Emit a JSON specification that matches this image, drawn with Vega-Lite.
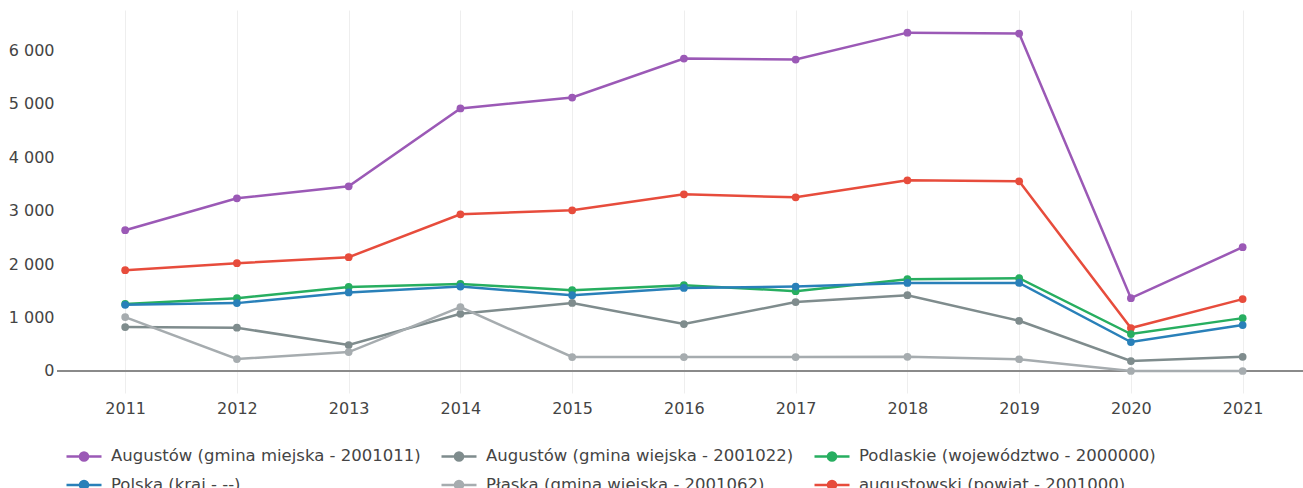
{
  "$schema": "https://vega.github.io/schema/vega-lite/v6.json",
  "autosize": {"type": "none"},
  "width": 1246,
  "height": 383,
  "padding": {"left": 57, "top": 10, "right": 0, "bottom": 95},
  "background": "white",
  "config": {
    "view": {"stroke": null},
    "font": "DejaVu Sans",
    "axis": {"labelFont": "DejaVu Sans", "labelFontSize": 16, "labelColor": "#444", "gridColor": "#eeeeee", "gridWidth": 1, "domain": false, "ticks": false, "title": null}
  },
  "data": {
    "values": [
      {"year": 2011, "series": "Augustów (gmina miejska - 2001011)", "value": 2636},
      {"year": 2012, "series": "Augustów (gmina miejska - 2001011)", "value": 3234},
      {"year": 2013, "series": "Augustów (gmina miejska - 2001011)", "value": 3458},
      {"year": 2014, "series": "Augustów (gmina miejska - 2001011)", "value": 4916},
      {"year": 2015, "series": "Augustów (gmina miejska - 2001011)", "value": 5121},
      {"year": 2016, "series": "Augustów (gmina miejska - 2001011)", "value": 5850},
      {"year": 2017, "series": "Augustów (gmina miejska - 2001011)", "value": 5832},
      {"year": 2018, "series": "Augustów (gmina miejska - 2001011)", "value": 6336},
      {"year": 2019, "series": "Augustów (gmina miejska - 2001011)", "value": 6318},
      {"year": 2020, "series": "Augustów (gmina miejska - 2001011)", "value": 1364},
      {"year": 2021, "series": "Augustów (gmina miejska - 2001011)", "value": 2318},
      {"year": 2011, "series": "augustowski (powiat - 2001000)", "value": 1888},
      {"year": 2012, "series": "augustowski (powiat - 2001000)", "value": 2019},
      {"year": 2013, "series": "augustowski (powiat - 2001000)", "value": 2131},
      {"year": 2014, "series": "augustowski (powiat - 2001000)", "value": 2935},
      {"year": 2015, "series": "augustowski (powiat - 2001000)", "value": 3009},
      {"year": 2016, "series": "augustowski (powiat - 2001000)", "value": 3308},
      {"year": 2017, "series": "augustowski (powiat - 2001000)", "value": 3252},
      {"year": 2018, "series": "augustowski (powiat - 2001000)", "value": 3570},
      {"year": 2019, "series": "augustowski (powiat - 2001000)", "value": 3551},
      {"year": 2020, "series": "augustowski (powiat - 2001000)", "value": 804},
      {"year": 2021, "series": "augustowski (powiat - 2001000)", "value": 1346},
      {"year": 2011, "series": "Podlaskie (województwo - 2000000)", "value": 1255},
      {"year": 2012, "series": "Podlaskie (województwo - 2000000)", "value": 1364},
      {"year": 2013, "series": "Podlaskie (województwo - 2000000)", "value": 1575},
      {"year": 2014, "series": "Podlaskie (województwo - 2000000)", "value": 1630},
      {"year": 2015, "series": "Podlaskie (województwo - 2000000)", "value": 1514},
      {"year": 2016, "series": "Podlaskie (województwo - 2000000)", "value": 1607},
      {"year": 2017, "series": "Podlaskie (województwo - 2000000)", "value": 1495},
      {"year": 2018, "series": "Podlaskie (województwo - 2000000)", "value": 1720},
      {"year": 2019, "series": "Podlaskie (województwo - 2000000)", "value": 1738},
      {"year": 2020, "series": "Podlaskie (województwo - 2000000)", "value": 692},
      {"year": 2021, "series": "Podlaskie (województwo - 2000000)", "value": 990},
      {"year": 2011, "series": "Polska (kraj - --)", "value": 1240},
      {"year": 2012, "series": "Polska (kraj - --)", "value": 1271},
      {"year": 2013, "series": "Polska (kraj - --)", "value": 1470},
      {"year": 2014, "series": "Polska (kraj - --)", "value": 1580},
      {"year": 2015, "series": "Polska (kraj - --)", "value": 1420},
      {"year": 2016, "series": "Polska (kraj - --)", "value": 1555},
      {"year": 2017, "series": "Polska (kraj - --)", "value": 1580},
      {"year": 2018, "series": "Polska (kraj - --)", "value": 1650},
      {"year": 2019, "series": "Polska (kraj - --)", "value": 1650},
      {"year": 2020, "series": "Polska (kraj - --)", "value": 542},
      {"year": 2021, "series": "Polska (kraj - --)", "value": 860},
      {"year": 2011, "series": "Augustów (gmina wiejska - 2001022)", "value": 822},
      {"year": 2012, "series": "Augustów (gmina wiejska - 2001022)", "value": 810},
      {"year": 2013, "series": "Augustów (gmina wiejska - 2001022)", "value": 486},
      {"year": 2014, "series": "Augustów (gmina wiejska - 2001022)", "value": 1070},
      {"year": 2015, "series": "Augustów (gmina wiejska - 2001022)", "value": 1275},
      {"year": 2016, "series": "Augustów (gmina wiejska - 2001022)", "value": 879},
      {"year": 2017, "series": "Augustów (gmina wiejska - 2001022)", "value": 1290},
      {"year": 2018, "series": "Augustów (gmina wiejska - 2001022)", "value": 1420},
      {"year": 2019, "series": "Augustów (gmina wiejska - 2001022)", "value": 940},
      {"year": 2020, "series": "Augustów (gmina wiejska - 2001022)", "value": 187},
      {"year": 2021, "series": "Augustów (gmina wiejska - 2001022)", "value": 265},
      {"year": 2011, "series": "Płaska (gmina wiejska - 2001062)", "value": 1009},
      {"year": 2012, "series": "Płaska (gmina wiejska - 2001062)", "value": 224},
      {"year": 2013, "series": "Płaska (gmina wiejska - 2001062)", "value": 355},
      {"year": 2014, "series": "Płaska (gmina wiejska - 2001062)", "value": 1196},
      {"year": 2015, "series": "Płaska (gmina wiejska - 2001062)", "value": 262},
      {"year": 2016, "series": "Płaska (gmina wiejska - 2001062)", "value": 262},
      {"year": 2017, "series": "Płaska (gmina wiejska - 2001062)", "value": 262},
      {"year": 2018, "series": "Płaska (gmina wiejska - 2001062)", "value": 265},
      {"year": 2019, "series": "Płaska (gmina wiejska - 2001062)", "value": 220},
      {"year": 2020, "series": "Płaska (gmina wiejska - 2001062)", "value": 0},
      {"year": 2021, "series": "Płaska (gmina wiejska - 2001062)", "value": 0}
    ]
  },
  "layer": [
    {
      "mark": {"type": "rule", "color": "#8a8a8a", "strokeWidth": 2},
      "encoding": {"y": {"datum": 0, "type": "quantitative"}}
    },
    {
      "mark": {"type": "line", "strokeWidth": 2.5, "point": {"filled": true, "size": 60, "opacity": 1}},
      "encoding": {
        "x": {
          "field": "year", "type": "quantitative",
          "scale": {"domain": [2010.39, 2021.54], "nice": false, "zero": false},
          "axis": {"values": [2011, 2012, 2013, 2014, 2015, 2016, 2017, 2018, 2019, 2020, 2021], "format": "d", "labelPadding": 7, "labelFlush": false}
        },
        "y": {
          "field": "value", "type": "quantitative",
          "scale": {"domain": [-412, 6760], "nice": false, "zero": false},
          "axis": {"values": [0, 1000, 2000, 3000, 4000, 5000, 6000], "labelExpr": "replace(format(datum.value, ',d'), ',', ' ')", "labelPadding": 3}
        },
        "color": {
          "field": "series", "type": "nominal",
          "scale": {
            "domain": ["Augustów (gmina miejska - 2001011)", "Augustów (gmina wiejska - 2001022)", "Podlaskie (województwo - 2000000)", "Polska (kraj - --)", "Płaska (gmina wiejska - 2001062)", "augustowski (powiat - 2001000)"],
            "range": ["#9b59b6", "#7f8c8d", "#27ae60", "#2980b9", "#a6acaf", "#e74c3c"]
          },
          "legend": {
            "orient": "none",
            "legendX": 8,
            "legendY": 427,
            "direction": "horizontal",
            "columns": 3,
            "title": null,
            "padding": 0,
            "columnPadding": 15,
            "rowPadding": -11,
            "labelFont": "DejaVu Sans",
            "labelFontSize": 16.5,
            "labelColor": "#444",
            "labelOffset": 8,
            "labelLimit": 500,
            "symbolType": "M-1,0H1M0.23,0A0.23,0.23,0,1,1,-0.23,0A0.23,0.23,0,1,1,0.23,0Z",
            "symbolSize": 1225,
            "symbolStrokeWidth": 2.5,
            "symbolOpacity": 1,
            "encode": {"symbols": {"update": {"fill": {"scale": "color", "field": "value"}, "stroke": {"scale": "color", "field": "value"}}}}
          }
        },
        "order": {"field": "year", "type": "quantitative"}
      }
    }
  ]
}
